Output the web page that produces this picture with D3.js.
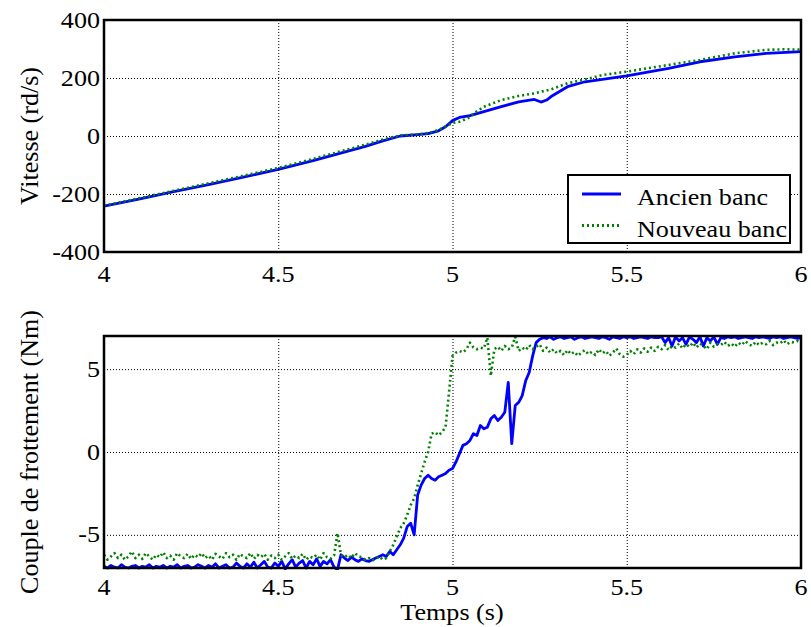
<!DOCTYPE html>
<html><head><meta charset="utf-8">
<script src="https://cdn.jsdelivr.net/npm/d3@7"></script>
<style>body{margin:0;background:#fff}svg{display:block}text{font-family:"Liberation Serif","Times New Roman",serif;fill:#000}</style>
</head><body><svg id="c" width="811" height="627"></svg>
<script>
// ---------- DATA ----------
const xTicks = [4, 4.5, 5, 5.5, 6];
const speedTicks = [-400, -200, 0, 200, 400];
const torqueTicks = [-5, 0, 5];
const seriesNames = ["Ancien banc", "Nouveau banc"];

const speedTimeAncien = [4.0,4.1,4.2,4.3,4.4,4.5,4.6,4.7,4.75,4.8,4.85,4.9,4.93,4.96,4.98,5.0,5.02,5.05,5.09,5.14,5.19,5.235,5.254,5.27,5.283,5.33,5.38,5.43,5.5,5.62,5.71,5.81,5.9,6.0];
const speedAncien = [-242,-218,-192,-168,-142,-115,-85,-52,-36,-17,0,5,8,18,32,53,64,70,84,101,118,126,117,124,136,170,187,195,207,233,256,273,285,291];
const speedTimeNouveau = [4.0,4.1,4.2,4.3,4.4,4.5,4.6,4.7,4.75,4.8,4.85,4.9,4.93,4.96,4.98,5.0,5.02,5.045,5.07,5.09,5.14,5.19,5.235,5.283,5.33,5.38,5.43,5.5,5.62,5.71,5.81,5.9,5.95,6.0];
const speedNouveau = [-240,-215,-189,-163,-137,-110,-79,-46,-30,-12,2,6,10,20,33,45,49,62,85,101,124,138,147,161,182,195,210,222,245,262,285,297,299,298];

// torque sampled every 0.01 s from 4.00 to 6.00
const torqueStart = 4.0, torqueStep = 0.01;
const torqueAncien = [
-6.9,-7.0,-6.85,-6.95,-7.0,-6.8,-6.95,-7.0,-6.9,-6.85,
-7.0,-6.9,-6.95,-6.8,-7.0,-6.9,-6.95,-6.85,-7.0,-6.9,
-6.95,-6.8,-7.0,-6.9,-6.85,-7.0,-6.95,-6.8,-6.9,-7.0,
-6.85,-6.95,-6.75,-7.0,-6.9,-6.8,-7.0,-6.95,-6.7,-6.9,
-7.0,-6.75,-6.95,-6.65,-7.0,-6.8,-6.6,-6.95,-7.0,-6.7,
-6.9,-6.6,-7.05,-6.75,-6.5,-6.95,-6.7,-6.55,-7.0,-6.6,
-6.8,-6.45,-6.9,-6.6,-6.75,-6.5,-6.95,-7.1,-6.2,-6.4,
-6.55,-6.35,-6.5,-6.6,-6.45,-6.55,-6.6,-6.5,-6.4,-6.3,
-6.2,-6.3,-6.0,-6.2,-5.9,-5.6,-5.2,-4.5,-4.3,-5.0,
-2.6,-2.0,-1.6,-1.4,-1.6,-1.7,-1.5,-1.4,-1.3,-1.1,
-1.0,-0.6,-0.1,0.4,0.5,0.7,1.1,1.0,1.6,1.4,
1.5,2.0,2.2,1.9,2.1,2.4,4.2,0.5,2.8,3.0,
3.4,4.3,4.8,5.8,6.6,6.8,6.9,6.85,6.95,6.8,
6.9,6.95,6.85,6.9,6.95,6.8,6.9,6.95,6.85,6.9,
6.95,6.9,6.85,6.95,6.9,6.8,6.95,6.9,6.85,6.95,
6.9,6.95,6.85,6.9,6.95,6.9,6.85,6.95,6.9,6.9,
6.95,6.6,6.9,6.4,6.95,6.7,6.9,6.5,6.95,6.8,
6.6,6.95,6.4,6.9,6.7,6.95,6.5,6.9,6.85,6.95,
6.9,6.95,6.85,6.9,6.95,6.9,6.85,6.95,6.9,6.95,
6.9,6.85,6.95,6.9,6.95,6.85,6.9,6.95,6.9,6.85,
6.9];
const torqueNouveau = [
-6.2,-6.5,-6.3,-6.1,-6.4,-6.2,-6.5,-6.3,-6.0,-6.4,
-6.2,-6.45,-6.1,-6.3,-6.5,-6.2,-6.35,-6.05,-6.4,-6.25,
-6.5,-6.1,-6.3,-6.4,-6.15,-6.45,-6.2,-6.35,-6.1,-6.4,
-6.25,-6.5,-6.15,-6.3,-6.45,-6.1,-6.35,-6.2,-6.5,-6.15,
-6.3,-6.4,-6.1,-6.45,-6.2,-6.35,-6.15,-6.5,-6.25,-6.4,
-6.2,-6.5,-6.3,-6.1,-6.45,-6.25,-6.4,-6.15,-6.5,-6.3,
-6.4,-6.2,-6.5,-6.1,-6.35,-6.45,-6.25,-4.9,-6.2,-6.35,
-6.2,-6.4,-6.1,-6.3,-6.35,-6.5,-6.4,-6.55,-6.45,-6.3,
-6.5,-6.4,-6.0,-5.6,-5.1,-4.6,-4.3,-3.8,-3.2,-2.8,
-2.0,-1.3,-0.6,0.0,1.1,1.2,1.0,1.2,1.5,3.6,
5.8,6.0,6.1,6.0,6.2,6.6,6.3,6.2,6.3,6.25,
6.9,4.6,6.2,6.35,6.1,6.4,6.2,6.3,6.95,6.1,
6.3,6.15,6.45,6.2,6.35,6.5,6.1,6.3,6.0,6.2,
5.95,6.1,5.85,6.15,5.9,6.05,5.8,6.0,6.15,5.9,
6.05,5.85,6.2,5.95,6.1,5.8,6.0,6.25,5.9,5.75,
5.85,6.1,5.9,6.2,6.0,6.25,6.05,6.3,6.1,6.35,
6.2,6.45,6.15,6.4,6.3,6.55,6.25,6.5,6.35,6.6,
6.3,6.55,6.4,6.2,6.6,6.35,6.5,6.45,6.65,6.4,
6.55,6.35,6.6,6.45,6.7,6.5,6.4,6.65,6.45,6.6,
6.5,6.7,6.45,6.6,6.55,6.75,6.5,6.65,6.6,6.7,
6.6];

// ---------- DRAW ----------
const svg = d3.select("#c");
const L = 104, R = 801;
const blue = "#0000ff", green = "#008000";
const FS = 22.5, SX = 1.16;

function label(parent, x, y, txt, anchor, size, sx) {
  return parent.append("text")
    .attr("transform", `translate(${x},${y}) scale(${sx},1)`)
    .attr("text-anchor", anchor).attr("font-size", size).text(txt);
}

function panel(top, bottom, yDomain, yTickVals, yTitle, xLabelBase, series) {
  const x = d3.scaleLinear().domain([4, 6]).range([L, R]);
  const y = d3.scaleLinear().domain(yDomain).range([bottom, top]);
  const g = svg.append("g");
  // grid
  g.append("g").attr("transform", `translate(0,${bottom})`)
    .call(d3.axisBottom(x).tickValues(xTicks.slice(1, -1)).tickSize(-(bottom - top)).tickFormat(""))
    .call(s => s.select(".domain").remove())
    .call(s => s.selectAll("line").attr("stroke", "#000").attr("stroke-width", 1).attr("stroke-dasharray", "1,2"));
  g.append("g").attr("transform", `translate(${L},0)`)
    .call(d3.axisLeft(y).tickValues(yTickVals.filter(v => v > yDomain[0] && v < yDomain[1])).tickSize(-(R - L)).tickFormat(""))
    .call(s => s.select(".domain").remove())
    .call(s => s.selectAll("line").attr("stroke", "#000").attr("stroke-width", 1).attr("stroke-dasharray", "1,2"));
  // clip
  const cid = "clip" + top;
  svg.append("clipPath").attr("id", cid).append("rect").attr("x", L).attr("y", top - 2).attr("width", R - L + 3).attr("height", bottom - top + 4);
  const line = d3.line().x(d => x(d[0])).y(d => y(d[1]));
  series.forEach(s => {
    g.append("path").attr("clip-path", `url(#${cid})`).datum(s.data).attr("d", line)
      .attr("fill", "none").attr("stroke", s.color).attr("stroke-width", s.w)
      .attr("stroke-dasharray", s.dash || null).attr("stroke-linejoin", "round");
  });
  // frame
  g.append("rect").attr("x", L).attr("y", top).attr("width", R - L).attr("height", bottom - top)
    .attr("fill", "none").attr("stroke", "#000").attr("stroke-width", 2.5);
  // x tick labels
  xTicks.forEach(v => label(g, x(v), xLabelBase, String(v), "middle", FS, SX));
  // y tick labels
  yTickVals.forEach(v => label(g, L - 4, y(v) + 7.5, String(v), "end", FS, SX));
  g.append("text").attr("transform", `translate(${29 + 9},${(top + bottom) / 2}) rotate(-90)`)
    .attr("text-anchor", "middle").attr("font-size", 26).text(yTitle);
  return { x, y };
}

const sA = speedTimeAncien.map((t, i) => [t, speedAncien[i]]);
const sN = speedTimeNouveau.map((t, i) => [t, speedNouveau[i]]);
panel(20, 252, [-400, 400], speedTicks, "Vitesse (rd/s)", 282, [
  { data: sA, color: blue, w: 2.8 },
  { data: sN, color: green, w: 2.6, dash: "2,3" }
]);

const tA = torqueAncien.map((v, i) => [torqueStart + i * torqueStep, v]);
const tN = torqueNouveau.map((v, i) => [torqueStart + i * torqueStep, v]);
panel(336, 568, [-7, 7], torqueTicks, "Couple de frottement (Nm)", 595, [
  { data: tA, color: blue, w: 2.8 },
  { data: tN, color: green, w: 2.6, dash: "2,3" }
]);

label(svg, 452, 620, "Temps (s)", "middle", FS, SX);

// legend
const lg = svg.append("g");
lg.append("rect").attr("x", 568).attr("y", 175).attr("width", 222).attr("height", 68).attr("fill", "#fff").attr("stroke", "#000").attr("stroke-width", 2);
const legendItems = [{ name: seriesNames[0], color: blue, dash: null }, { name: seriesNames[1], color: green, dash: "2,3" }];
legendItems.forEach((d, i) => {
  const yy = 194 + i * 31.5;
  lg.append("line").attr("x1", 582).attr("x2", 621).attr("y1", yy).attr("y2", yy)
    .attr("stroke", d.color).attr("stroke-width", 2.8).attr("stroke-dasharray", d.dash);
  label(lg, 637, yy + 11, d.name, "start", FS, SX);
});
</script></body></html>
